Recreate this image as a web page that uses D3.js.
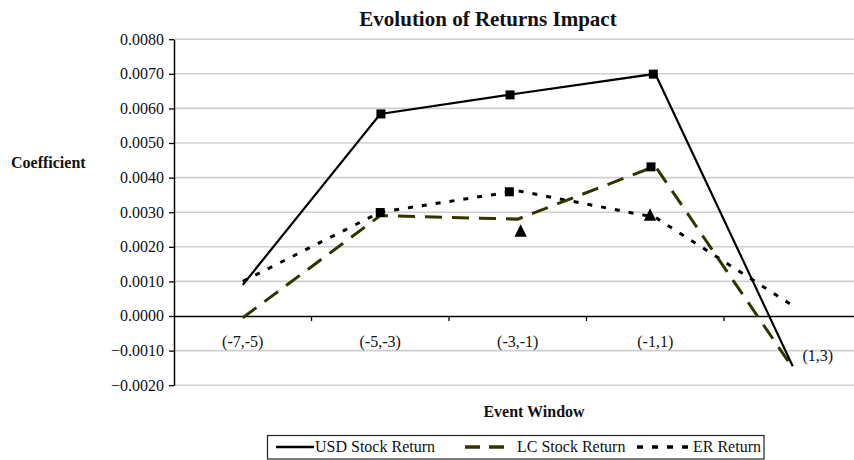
<!DOCTYPE html>
<html>
<head>
<meta charset="utf-8">
<script src="https://cdn.jsdelivr.net/npm/d3@7/dist/d3.min.js"></script>
<style>
  html, body { margin: 0; padding: 0; background: #fff; }
  svg { display: block; font-family: "Liberation Serif", "Times New Roman", serif; }
</style>
</head>
<body>
<svg id="chart" width="854" height="460"></svg>
<script>
// ---------- data ----------
const categories = ["(-7,-5)", "(-5,-3)", "(-3,-1)", "(-1,1)", "(1,3)"];
const usdStock = [0.0009, 0.00584, 0.00643, 0.0070, -0.00145];
const lcStock  = [-0.00005, 0.0029, 0.0028, 0.00433, -0.0015];
const erReturn = [0.0010, 0.0030, 0.00362, 0.00285, 0.0003];
const yTicks = [-0.002, -0.001, 0, 0.001, 0.002, 0.003, 0.004, 0.005, 0.006, 0.007, 0.008];
// significance markers: x in category-index units, value
const squareMarkers = [
  {x: 1.005, v: 0.00584}, {x: 1.944, v: 0.00639}, {x: 2.986, v: 0.00699},
  {x: 1.0,   v: 0.00299}, {x: 1.939, v: 0.00359}, {x: 2.969, v: 0.00431}
];
const triangleMarkers = [{x: 2.021, v: 0.00247}, {x: 2.962, v: 0.00293}];
const seriesNames = ["USD Stock Return", "LC Stock Return", "ER Return"];

// ---------- layout ----------
const svg = d3.select("#chart");
const plotL = 174, plotR = 861.5, plotT = 39.2, plotB = 385.2;
const serif = '"Liberation Serif", "Times New Roman", serif';

const y = d3.scaleLinear().domain([-0.002, 0.008]).range([plotB, plotT]);
const xBand = d3.scaleBand().domain(categories).range([plotL, plotR]).padding(0);
const xIdx = d3.scaleLinear().domain([-0.5, categories.length - 0.5]).range([plotL, plotR]);

svg.append("defs").append("clipPath").attr("id", "clip")
  .append("rect").attr("x", 0).attr("y", 0).attr("width", 854).attr("height", 460);
const g = svg.append("g").attr("clip-path", "url(#clip)");

// gridlines
g.append("g").selectAll("line").data(yTicks.filter(d => d !== 0)).join("line")
  .attr("x1", plotL).attr("x2", 854)
  .attr("y1", d => y(d)).attr("y2", d => y(d))
  .attr("stroke", "#cfcfcf").attr("stroke-width", 1.6);

// y axis
const yAxis = g.append("g").attr("transform", `translate(${plotL},0)`)
  .call(d3.axisLeft(y).tickValues(yTicks).tickFormat(d3.format(".4f"))
        .tickSize(5).tickSizeOuter(0).tickPadding(5));
yAxis.select(".domain").attr("stroke", "#000").attr("stroke-width", 1.5);
yAxis.selectAll(".tick line").attr("stroke", "#000").attr("stroke-width", 1.3);
yAxis.selectAll("text").attr("font-family", serif).attr("font-size", 16)
  .attr("fill", "#111").attr("dy", "0.3em");

// x axis (zero line)
const xAxis = g.append("g").attr("transform", `translate(0,${y(0)})`)
  .call(d3.axisBottom(xBand).tickSize(0).tickSizeOuter(0));
xAxis.select(".domain").attr("stroke", "#000").attr("stroke-width", 1.5);
xAxis.selectAll("text").attr("font-family", serif).attr("font-size", 16)
  .attr("fill", "#111").attr("dy", null).attr("y", 30.5);
xAxis.selectAll(".tick").filter(d => d === categories[categories.length - 1])
  .select("text").attr("x", 25).attr("y", 45);
// boundary ticks
g.append("g").selectAll("line").data(categories.slice(1)).join("line")
  .attr("x1", d => xBand(d)).attr("x2", d => xBand(d))
  .attr("y1", y(0)).attr("y2", y(0) + 5)
  .attr("stroke", "#000").attr("stroke-width", 1.3);

// lines
const line = d3.line().x((d, i) => xIdx(i)).y(d => y(d));
g.append("path").datum(erReturn).attr("d", line)
  .attr("fill", "none").attr("stroke", "#000").attr("stroke-width", 3)
  .attr("stroke-dasharray", "5,9");
g.append("path").datum(lcStock).attr("d", line)
  .attr("fill", "none").attr("stroke", "#333300").attr("stroke-width", 3)
  .attr("stroke-dasharray", "17,10");
g.append("path").datum(usdStock).attr("d", line)
  .attr("fill", "none").attr("stroke", "#000").attr("stroke-width", 2.2);

// markers
g.append("g").selectAll("rect").data(squareMarkers).join("rect")
  .attr("x", d => xIdx(d.x) - 4.5).attr("y", d => y(d.v) - 4.5)
  .attr("width", 9).attr("height", 9).attr("fill", "#000");
g.append("g").selectAll("path").data(triangleMarkers).join("path")
  .attr("d", d => {
    const cx = xIdx(d.x), cy = y(d.v);
    return `M${cx},${cy - 6.3}L${cx + 6.2},${cy + 6.2}L${cx - 6.2},${cy + 6.2}Z`;
  })
  .attr("fill", "#000");

// title & axis titles
svg.append("text").attr("x", 488).attr("y", 26).attr("text-anchor", "middle")
  .attr("font-family", serif).attr("font-size", 21).attr("font-weight", "bold")
  .attr("fill", "#111").text("Evolution of Returns Impact");
svg.append("text").attr("x", 11).attr("y", 167.5)
  .attr("font-family", serif).attr("font-size", 16).attr("font-weight", "bold")
  .attr("fill", "#111").text("Coefficient");
svg.append("text").attr("x", 534).attr("y", 417).attr("text-anchor", "middle")
  .attr("font-family", serif).attr("font-size", 16).attr("font-weight", "bold")
  .attr("fill", "#111").text("Event Window");

// legend
const lg = svg.append("g");
lg.append("rect").attr("x", 267.5).attr("y", 435.5).attr("width", 496.5).attr("height", 23.5)
  .attr("fill", "#fff").attr("stroke", "#222").attr("stroke-width", 1.2);
const legendItems = [
  {name: seriesNames[0], x1: 276, x2: 314, tx: 315, stroke: "#000", w: 2.5, dash: null},
  {name: seriesNames[1], x1: 465, x2: 510, tx: 517, stroke: "#333300", w: 3.5, dash: "15,9"},
  {name: seriesNames[2], x1: 637, x2: 692, tx: 693, stroke: "#000", w: 3.5, dash: "6,9"}
];
legendItems.forEach(it => {
  lg.append("line").attr("x1", it.x1).attr("x2", it.x2).attr("y1", 447).attr("y2", 447)
    .attr("stroke", it.stroke).attr("stroke-width", it.w)
    .attr("stroke-dasharray", it.dash);
  lg.append("text").attr("x", it.tx).attr("y", 452)
    .attr("font-family", serif).attr("font-size", 16).attr("fill", "#111").text(it.name);
});
</script>
</body>
</html>
